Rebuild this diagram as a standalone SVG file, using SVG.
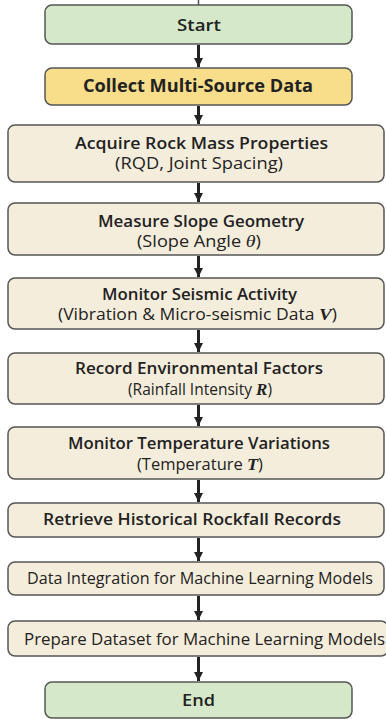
<svg xmlns="http://www.w3.org/2000/svg" width="386" height="719" viewBox="0 0 386 719">
<defs>
<style>
.box{stroke:#555;stroke-width:1.5}
.g{fill:#d5e8c9}
.y{fill:#f8dd8b}
.b{fill:#f5eddb}
text{font-family:"Open Sans","Noto Sans",sans-serif;fill:#222;text-anchor:middle}
.t{font-size:16px;font-weight:600}
.s{font-size:15.5px;font-weight:400}
.m{font-family:"Liberation Serif",serif;font-style:italic;font-weight:bold;font-size:17px}
.c{stroke:#222;stroke-width:3;fill:none}
</style>
<marker id="ah" viewBox="0 0 10 10" refX="10" refY="5" markerWidth="3" markerHeight="3" orient="auto" markerUnits="strokeWidth">
<path d="M0,0 L10,5 L0,10 z" fill="#222"/>
</marker>
</defs>
<rect width="386" height="719" fill="#fff"/>
<g id="connectors">
<line x1="198.5" y1="0" x2="198.5" y2="5" stroke="#555" stroke-width="1.5"/>
<line class="c" x1="198.5" y1="45" x2="198.5" y2="67" marker-end="url(#ah)"/>
<line class="c" x1="198.5" y1="106" x2="198.5" y2="124" marker-end="url(#ah)"/>
<line class="c" x1="198.5" y1="183" x2="198.5" y2="202" marker-end="url(#ah)"/>
<line class="c" x1="198.5" y1="256" x2="198.5" y2="277" marker-end="url(#ah)"/>
<line class="c" x1="198.5" y1="330" x2="198.5" y2="352" marker-end="url(#ah)"/>
<line class="c" x1="198.5" y1="405" x2="198.5" y2="426" marker-end="url(#ah)"/>
<line class="c" x1="198.5" y1="480" x2="198.5" y2="502" marker-end="url(#ah)"/>
<line class="c" x1="198.5" y1="538" x2="198.5" y2="561" marker-end="url(#ah)"/>
<line class="c" x1="198.5" y1="596" x2="198.5" y2="620" marker-end="url(#ah)"/>
<line class="c" x1="198.5" y1="657" x2="198.5" y2="681" marker-end="url(#ah)"/>
</g>
<g id="start">
<rect class="box g" x="45" y="5" width="307" height="39" rx="7"/>
<text class="t" x="199" y="31" style="font-size:17px" textLength="44" lengthAdjust="spacingAndGlyphs">Start</text>
</g>
<g id="collect">
<rect class="box y" x="45" y="68" width="307" height="37" rx="7"/>
<text class="t" x="198" y="92" style="font-size:17px;font-weight:700" textLength="230" lengthAdjust="spacingAndGlyphs">Collect Multi-Source Data</text>
</g>
<g id="acquire">
<rect class="box b" x="8" y="125" width="376" height="57" rx="7"/>
<text class="t" x="201.5" y="149" textLength="253" lengthAdjust="spacingAndGlyphs">Acquire Rock Mass Properties</text>
<text class="s" x="199" y="169" textLength="168" lengthAdjust="spacingAndGlyphs">(RQD, Joint Spacing)</text>
</g>
<g id="measure">
<rect class="box b" x="8" y="203" width="376" height="52" rx="7"/>
<text class="t" x="201" y="227" textLength="206" lengthAdjust="spacingAndGlyphs">Measure Slope Geometry</text>
<text class="s" x="199" y="247" textLength="124" lengthAdjust="spacingAndGlyphs">(Slope Angle <tspan class="m" style="font-weight:normal">θ</tspan>)</text>
</g>
<g id="seismic">
<rect class="box b" x="8" y="278" width="376" height="51" rx="7"/>
<text class="t" x="199.5" y="300" textLength="195" lengthAdjust="spacingAndGlyphs">Monitor Seismic Activity</text>
<text class="s" x="197.5" y="320" textLength="279" lengthAdjust="spacingAndGlyphs">(Vibration &amp; Micro-seismic Data <tspan class="m">V</tspan>)</text>
</g>
<g id="environment">
<rect class="box b" x="8" y="353" width="376" height="51" rx="7"/>
<text class="t" x="199" y="374" textLength="248" lengthAdjust="spacingAndGlyphs">Record Environmental Factors</text>
<text class="s" x="200" y="395" textLength="144" lengthAdjust="spacingAndGlyphs">(Rainfall Intensity <tspan class="m">R</tspan>)</text>
</g>
<g id="temperature">
<rect class="box b" x="8" y="427" width="376" height="52" rx="7"/>
<text class="t" x="199" y="449" textLength="262" lengthAdjust="spacingAndGlyphs">Monitor Temperature Variations</text>
<text class="s" x="200" y="470" textLength="126" lengthAdjust="spacingAndGlyphs">(Temperature <tspan class="m">T</tspan>)</text>
</g>
<g id="historical">
<rect class="box b" x="8" y="503" width="376" height="34" rx="7"/>
<text class="t" x="192" y="525" textLength="298" lengthAdjust="spacingAndGlyphs">Retrieve Historical Rockfall Records</text>
</g>
<g id="integration">
<rect class="box b" x="8" y="562" width="376" height="33" rx="7"/>
<text class="s" x="200" y="584" style="font-weight:500" textLength="346" lengthAdjust="spacingAndGlyphs">Data Integration for Machine Learning Models</text>
</g>
<g id="prepare">
<rect class="box b" x="8" y="621" width="380" height="35" rx="7"/>
<text class="t" x="204.5" y="645" style="font-size:16.5px;font-weight:500" textLength="361" lengthAdjust="spacingAndGlyphs">Prepare Dataset for Machine Learning Models</text>
</g>
<g id="end">
<rect class="box g" x="45" y="682" width="307" height="36" rx="7"/>
<text class="t" x="198.5" y="706" style="font-size:17px" textLength="33" lengthAdjust="spacingAndGlyphs">End</text>
</g>
</svg>
